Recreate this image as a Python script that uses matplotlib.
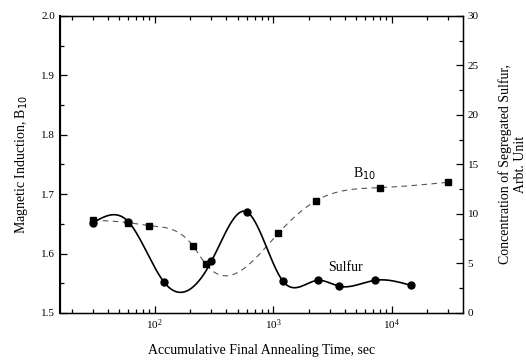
import numpy as np
import matplotlib.pyplot as plt
from matplotlib.ticker import LogLocator, MultipleLocator, NullFormatter

# -----------------------------
# Data
# -----------------------------

b10_time = [30, 60, 90, 210, 270, 1100, 2300, 8000, 30000]
b10_value = [1.656, 1.652, 1.647, 1.613, 1.582, 1.634, 1.689, 1.711, 1.720]

sulfur_time = [30, 60, 120, 300, 600, 1200, 2400, 3600, 7200, 14400]
sulfur_value = [9.1, 9.2, 3.1, 5.2, 10.2, 3.25, 3.3, 2.7, 3.3, 2.8]


def natural_spline(x, y, n=400):
    # natural cubic spline, evaluated on a dense grid
    x = np.asarray(x, float)
    y = np.asarray(y, float)
    k = len(x)
    h = np.diff(x)
    A = np.zeros((k, k))
    r = np.zeros(k)
    A[0, 0] = A[-1, -1] = 1
    for i in range(1, k - 1):
        A[i, i - 1] = h[i - 1]
        A[i, i] = 2 * (h[i - 1] + h[i])
        A[i, i + 1] = h[i]
        r[i] = 6 * ((y[i + 1] - y[i]) / h[i] - (y[i] - y[i - 1]) / h[i - 1])
    m = np.linalg.solve(A, r)
    xs = np.linspace(x[0], x[-1], n)
    idx = np.clip(np.searchsorted(x, xs) - 1, 0, k - 2)
    t0 = x[idx]
    t1 = x[idx + 1]
    hh = t1 - t0
    ys = (m[idx] * (t1 - xs) ** 3 / (6 * hh) + m[idx + 1] * (xs - t0) ** 3 / (6 * hh)
          + (y[idx] / hh - m[idx] * hh / 6) * (t1 - xs)
          + (y[idx + 1] / hh - m[idx + 1] * hh / 6) * (xs - t0))
    return xs, ys


plt.rcParams['font.family'] = 'Liberation Serif'
plt.rcParams['xtick.direction'] = 'in'
plt.rcParams['ytick.direction'] = 'in'

fig = plt.figure(figsize=(5.26, 3.61), dpi=100)
ax = fig.add_axes([0.114, 0.133, 0.766, 0.823])
ax2 = ax.twinx()

# B10 curve (dashed, left axis)
lx, ly = natural_spline(np.log10(b10_time), b10_value)
ax.plot(10 ** lx, ly, color='#555555', lw=0.8, ls=(0, (5, 4)))
ax.plot(b10_time, b10_value, 's', color='black', ms=5)

# Sulfur curve (solid, right axis)
sx, sy = natural_spline(np.log10(sulfur_time), sulfur_value)
ax2.plot(10 ** sx, sy, color='black', lw=1.2)
ax2.plot(sulfur_time, sulfur_value, 'o', color='black', ms=5)

ax.set_xscale('log')
ax.set_xlim(10 ** 1.2, 10 ** 4.6)
ax.set_ylim(1.5, 2.0)
ax2.set_ylim(0, 30)

ax.yaxis.set_major_locator(MultipleLocator(0.1))
ax.yaxis.set_minor_locator(MultipleLocator(0.05))
ax.yaxis.set_major_formatter(plt.FormatStrFormatter('%.1f'))
ax2.yaxis.set_major_locator(MultipleLocator(5))
ax2.yaxis.set_minor_locator(MultipleLocator(2.5))
ax.xaxis.set_major_locator(LogLocator(base=10, numticks=10))
ax.xaxis.set_minor_locator(LogLocator(base=10, subs=np.arange(2, 10), numticks=10))
ax.xaxis.set_minor_formatter(NullFormatter())

ax.tick_params(which='both', top=True, labelsize=8, width=0.9)
ax.tick_params(which='major', length=5)
ax.tick_params(which='minor', length=3)
ax2.tick_params(which='both', labelsize=8, width=0.9)
ax2.tick_params(which='major', length=5)
ax2.tick_params(which='minor', length=3)

for s in ax.spines.values():
    s.set_linewidth(1.0)
ax.spines['left'].set_linewidth(1.5)

ax.set_xlabel('Accumulative Final Annealing Time, sec', fontsize=10, labelpad=8)
ax.set_ylabel('Magnetic Induction, B$_{10}$', fontsize=10, labelpad=8)
ax2.set_ylabel('Concentration of Segregated Sulfur,\nArbt. Unit', fontsize=10,
               rotation=90, labelpad=14)

ax.text(5900, 1.734, 'B$_{10}$', fontsize=10, ha='center', va='center')
ax2.text(4100, 4.6, 'Sulfur', fontsize=10, ha='center', va='center')

fig.savefig('out.png', dpi=100)
